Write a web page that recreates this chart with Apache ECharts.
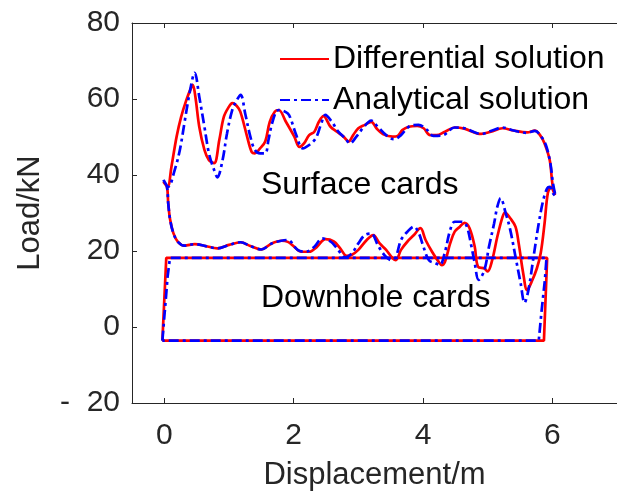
<!DOCTYPE html>
<html>
<head>
<meta charset="utf-8">
<script src="https://cdn.jsdelivr.net/npm/echarts@6/dist/echarts.min.js"></script>
<style>html,body{margin:0;padding:0;background:#fff}#c{width:617px;height:496px}</style>
</head>
<body>
<div id="c"></div>
<script>
var FONT = '"Liberation Sans", Arial, Helvetica, sans-serif';
var seriesNames = ['Differential solution', 'Analytical solution'];
var xTicks = [0, 2, 4, 6];
var yTicks = [-20, 0, 20, 40, 60, 80];
var annotations = ['Surface cards', 'Downhole cards'];

// Surface card, differential solution (upper stroke then lower stroke back)
var diffSurface = [
  [-0.015,38.2],[0.05,36.9],[0.11,42.2],[0.19,50.1],[0.26,55.3],[0.34,59.7],[0.41,62.8],[0.44,63.7],
  [0.48,60.6],[0.54,52.7],[0.62,46.6],[0.69,43.9],[0.77,43.1],[0.85,49.2],[0.92,55.3],[1.0,58.0],
  [1.05,58.9],[1.15,57.5],[1.2,55.3],[1.28,50.1],[1.35,46.1],[1.40,45.7],[1.48,47.0],[1.56,48.8],
  [1.63,54.0],[1.71,56.7],[1.77,57.1],[1.88,54.0],[2.01,50.1],[2.09,47.4],[2.16,48.3],[2.24,50.5],
  [2.32,51.4],[2.39,54.0],[2.46,55.5],[2.57,52.7],[2.67,51.4],[2.77,50.1],[2.85,48.8],[2.92,50.5],
  [3.0,52.3],[3.10,53.2],[3.2,54.0],[3.28,52.3],[3.38,50.8],[3.53,50.1],[3.61,50.3],[3.68,51.8],
  [3.78,52.7],[3.91,52.9],[4.01,52.3],[4.11,50.5],[4.21,50.5],[4.34,51.4],[4.49,52.5],[4.64,52.2],
  [4.90,50.8],[5.05,51.4],[5.23,52.3],[5.40,51.7],[5.61,51.2],[5.73,51.7],[5.81,50.5],[5.88,48.3],
  [5.96,43.9],[6.0,37.8],[6.04,34.7],
  [6.01,36.0],[5.98,36.9],[5.93,35.2],[5.88,27.3],[5.82,19.4],[5.76,15.4],[5.68,11.9],[5.61,9.7],
  [5.55,14.1],[5.48,22.0],[5.43,26.4],[5.35,28.6],[5.27,30.1],[5.23,29.0],[5.15,23.8],[5.07,17.6],
  [5.0,14.6],[4.95,15.4],[4.85,15.9],[4.80,21.1],[4.72,26.0],[4.64,27.4],[4.57,26.4],[4.49,25.1],
  [4.42,22.0],[4.34,17.2],[4.29,16.3],[4.24,17.2],[4.14,19.8],[4.04,22.9],[3.96,26.0],[3.86,24.2],
  [3.76,22.5],[3.66,20.3],[3.58,17.6],[3.51,18.5],[3.43,20.3],[3.33,22.0],[3.23,24.2],[3.13,22.9],
  [3.0,20.3],[2.90,19.0],[2.82,18.7],[2.72,20.7],[2.62,22.5],[2.49,23.1],[2.36,21.1],[2.24,19.8],
  [2.11,19.8],[2.01,21.1],[1.91,22.4],[1.81,22.7],[1.66,22.0],[1.50,20.4],[1.33,21.3],[1.18,22.3],
  [1.0,21.6],[0.82,20.7],[0.64,21.3],[0.47,21.8],[0.31,21.4],[0.21,22.4],[0.14,24.7],[0.09,28.2],
  [0.06,32.6],[0.04,36.9],[-0.015,38.2]
];

// Surface card, analytical solution
var anaSurface = [
  [-0.015,38.7],[0.06,36.9],[0.16,41.3],[0.24,46.6],[0.31,53.6],[0.39,61.5],[0.47,66.9],[0.54,60.6],
  [0.62,52.7],[0.69,45.7],[0.77,41.3],[0.82,39.4],[0.90,43.9],[0.97,51.0],[1.05,57.1],[1.12,59.7],
  [1.18,61.1],[1.25,56.2],[1.33,50.1],[1.40,46.6],[1.48,45.7],[1.56,45.7],[1.61,49.2],[1.66,53.2],
  [1.73,56.7],[1.78,57.1],[1.91,56.2],[1.96,54.5],[2.04,50.5],[2.14,47.0],[2.24,47.9],[2.34,49.6],
  [2.42,53.2],[2.49,55.8],[2.59,54.0],[2.69,51.4],[2.80,49.6],[2.87,48.3],[2.97,50.1],[3.07,52.3],
  [3.2,54.3],[3.30,52.7],[3.43,50.5],[3.55,49.4],[3.66,50.5],[3.78,52.7],[3.93,53.2],[4.06,51.9],
  [4.16,50.3],[4.31,50.5],[4.49,52.5],[4.64,52.3],[4.90,50.8],[5.07,51.7],[5.23,52.5],[5.40,51.7],
  [5.61,51.1],[5.73,51.6],[5.82,50.3],[5.90,47.9],[5.97,43.0],[6.01,37.8],[6.05,34.4],
  [6.01,35.2],[5.96,36.9],[5.92,36.5],[5.86,33.4],[5.79,27.3],[5.71,18.5],[5.63,9.7],[5.57,6.4],
  [5.51,11.5],[5.43,18.5],[5.35,25.5],[5.28,29.9],[5.2,33.9],[5.15,31.7],[5.10,27.3],[5.02,21.1],
  [4.95,15.0],[4.86,12.4],[4.80,16.8],[4.75,21.1],[4.67,26.8],[4.59,27.7],[4.49,27.7],[4.42,25.5],
  [4.34,19.8],[4.26,16.3],[4.19,16.8],[4.09,17.6],[3.99,22.0],[3.94,24.5],[3.86,26.4],[3.76,25.1],
  [3.66,22.9],[3.58,18.5],[3.51,17.6],[3.40,19.0],[3.30,21.6],[3.2,24.6],[3.10,24.2],[3.0,22.0],
  [2.90,19.4],[2.80,18.3],[2.67,20.7],[2.57,22.5],[2.44,23.3],[2.32,21.1],[2.19,19.8],[2.06,20.3],
  [1.91,22.9],[1.81,22.7],[1.66,22.0],[1.50,20.4],[1.33,21.3],[1.18,22.3],[1.0,21.6],[0.82,20.7],
  [0.64,21.3],[0.47,21.8],[0.31,21.4],[0.21,22.4],[0.14,24.7],[0.09,28.2],[0.06,32.6],[0.04,36.9],
  [-0.015,38.7]
];

// Downhole cards
var diffDownhole = [[-0.03,-3.6],[0.03,18.2],[5.92,18.2],[5.87,-3.6],[-0.03,-3.6]];
var anaDownhole = [[-0.03,-3.6],[0.0,2.7],[0.026,8.0],[0.05,13.2],[0.087,18.2],[5.91,18.2],
  [5.885,12.4],[5.83,3.6],[5.79,-3.6],[-0.03,-3.6]];

var RED = '#ff0000', BLUE = '#0000ff', AX = '#262626';
var dashDot = [10, 4, 3, 4];

var chart = echarts.init(document.getElementById('c'), null, {renderer: 'canvas'});
chart.setOption({
  animation: false,
  backgroundColor: '#ffffff',
  grid: {left: 132, right: -8, top: 23, bottom: 93, containLabel: false},
  legend: {
    data: seriesNames,
    orient: 'vertical',
    left: 279, top: 43, padding: 0,
    itemWidth: 49, itemHeight: 14, itemGap: 9,
    selectedMode: false,
    itemStyle: {opacity: 0},
    textStyle: {fontSize: 32, color: '#000', fontFamily: FONT, padding: [0,0,0,-1]}
  },
  xAxis: [{
    type: 'value', min: -0.5, max: 7, position: 'bottom',
    name: 'Displacement/m', nameLocation: 'middle', nameGap: 57,
    nameTextStyle: {fontSize: 31, color: AX, fontFamily: FONT},
    axisLine: {show: true, onZero: false, lineStyle: {color: AX, width: 1}},
    axisTick: {show: true, inside: true, length: 5, customValues: xTicks, lineStyle: {color: AX}},
    axisLabel: {show: true, customValues: xTicks, margin: 18, fontSize: 30, color: AX, fontFamily: FONT},
    splitLine: {show: false}
  }, {
    type: 'value', min: -0.5, max: 7, position: 'top',
    axisLine: {show: true, onZero: false, lineStyle: {color: AX, width: 1}},
    axisTick: {show: true, inside: true, length: 5, customValues: xTicks, lineStyle: {color: AX}},
    axisLabel: {show: false},
    splitLine: {show: false}
  }],
  yAxis: {
    type: 'value', min: -20, max: 80, interval: 20,
    name: 'Load/kN', nameLocation: 'middle', nameGap: 86, nameRotate: 90,
    nameTextStyle: {fontSize: 31, color: AX, fontFamily: FONT},
    axisLine: {show: true, onZero: false, lineStyle: {color: AX, width: 1}},
    axisTick: {show: true, inside: true, length: 5, lineStyle: {color: AX}},
    axisLabel: {
      margin: 12, fontSize: 30, color: AX, fontFamily: FONT,
      formatter: function (v) { return v < 0 ? '-  ' + Math.abs(v) : String(v); }
    },
    splitLine: {show: false}
  },
  graphic: [
    {type: 'text', x: 261, y: 185, style: {text: annotations[0], font: '32px ' + FONT, fill: '#000', textAlign: 'left', textVerticalAlign: 'middle'}},
    {type: 'text', x: 261, y: 298, style: {text: annotations[1], font: '32px ' + FONT, fill: '#000', textAlign: 'left', textVerticalAlign: 'middle'}}
  ],
  series: [
    {name: seriesNames[0], type: 'line', data: diffSurface, symbol: 'none', smooth: 0.35,
     lineStyle: {color: RED, width: 2.7}, itemStyle: {color: RED}, z: 2},
    {name: seriesNames[0], type: 'line', data: diffDownhole, symbol: 'none', smooth: false,
     lineStyle: {color: RED, width: 2.7}, itemStyle: {color: RED}, z: 2},
    {name: seriesNames[1], type: 'line', data: anaSurface, symbol: 'none', smooth: 0.35,
     lineStyle: {color: BLUE, width: 2.7, type: dashDot}, itemStyle: {color: BLUE}, z: 3},
    {name: seriesNames[1], type: 'line', data: anaDownhole, symbol: 'none', smooth: false,
     lineStyle: {color: BLUE, width: 2.7, type: dashDot}, itemStyle: {color: BLUE}, z: 3}
  ]
});
</script>
</body>
</html>
